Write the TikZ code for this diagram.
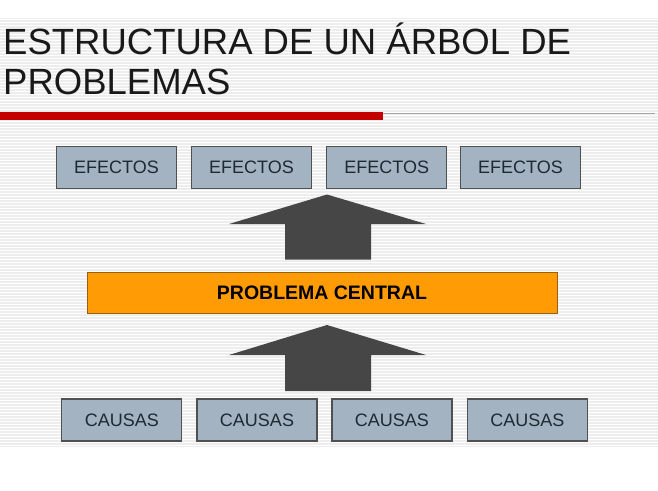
\documentclass[tikz,border=0pt]{standalone}
\usepackage{fontspec}
\setmainfont{Liberation Sans}
\definecolor{bgray}{HTML}{EDEDED}
\definecolor{boxfill}{HTML}{A4B3C2}
\definecolor{boxline}{HTML}{505050}
\definecolor{orangefill}{HTML}{FF9B05}
\definecolor{orangeline}{HTML}{9A6010}
\definecolor{arrowgray}{HTML}{464646}
\definecolor{redbar}{HTML}{C40000}
\definecolor{textdark}{HTML}{1E2A33}
\begin{document}
\begin{tikzpicture}[x=1pt,y=-1pt,
  cell/.style={draw=boxline,line width=1.2pt,fill=boxfill,minimum width=120pt,minimum height=42pt,inner sep=0pt,
     font=\fontsize{18}{20}\selectfont,text=textdark},
  central/.style={draw=orangeline,line width=1pt,fill=orangefill,minimum width=470pt,minimum height=41pt,inner sep=0pt,
     font=\fontsize{19.5}{22}\selectfont\bfseries,text=black},
  bigarrow/.style={fill=arrowgray,draw=none}]
\useasboundingbox (0,0) rectangle (658,490);
% background
\fill[white] (0,0) rectangle (658,490);
\fill[bgray] (0,18) rectangle (658,447);
\foreach \k in {0,...,142}{
  \draw[white,line width=0.9pt] (0,19.5+3*\k) -- (658,19.5+3*\k);
}
% title
\node[anchor=base west,inner sep=0pt,font=\fontsize{36.5}{40}\selectfont,text=black!90] (t1) at (3,54) {ESTRUCTURA DE UN ÁRBOL DE};
\node[anchor=base west,inner sep=0pt,font=\fontsize{36.5}{40}\selectfont,text=black!90] (t2) at (3,94) {PROBLEMAS};
% rule
\fill[redbar] (0,111.5) rectangle (383,120);
\draw[gray!70,line width=1pt] (383,113) -- (655,113);
% effects
\node[cell] (e1) at (116.5,167.5) {EFECTOS};
\node[cell] (e2) at (251.5,167.5) {EFECTOS};
\node[cell] (e3) at (386.8,167.5) {EFECTOS};
\node[cell] (e4) at (520.5,167.5) {EFECTOS};
% central
\node[central] (pc) at (322,292.5) {PROBLEMA CENTRAL};
% causes
\node[cell] (c1) at (121.8,420) {CAUSAS};
\node[cell] (c2) at (257,420) {CAUSAS};
\node[cell] (c3) at (391.9,420) {CAUSAS};
\node[cell] (c4) at (527.3,420) {CAUSAS};
% arrows
\fill[bigarrow] (285,259.5) -- (285,224) -- (229,224) -- (327,194.5) -- (426,224) -- (371,224) -- (371,259.5) -- cycle;
\fill[bigarrow] (285,391) -- (285,355) -- (229,355) -- (327,325) -- (426,355) -- (371,355) -- (371,391) -- cycle;
\end{tikzpicture}
\end{document}
